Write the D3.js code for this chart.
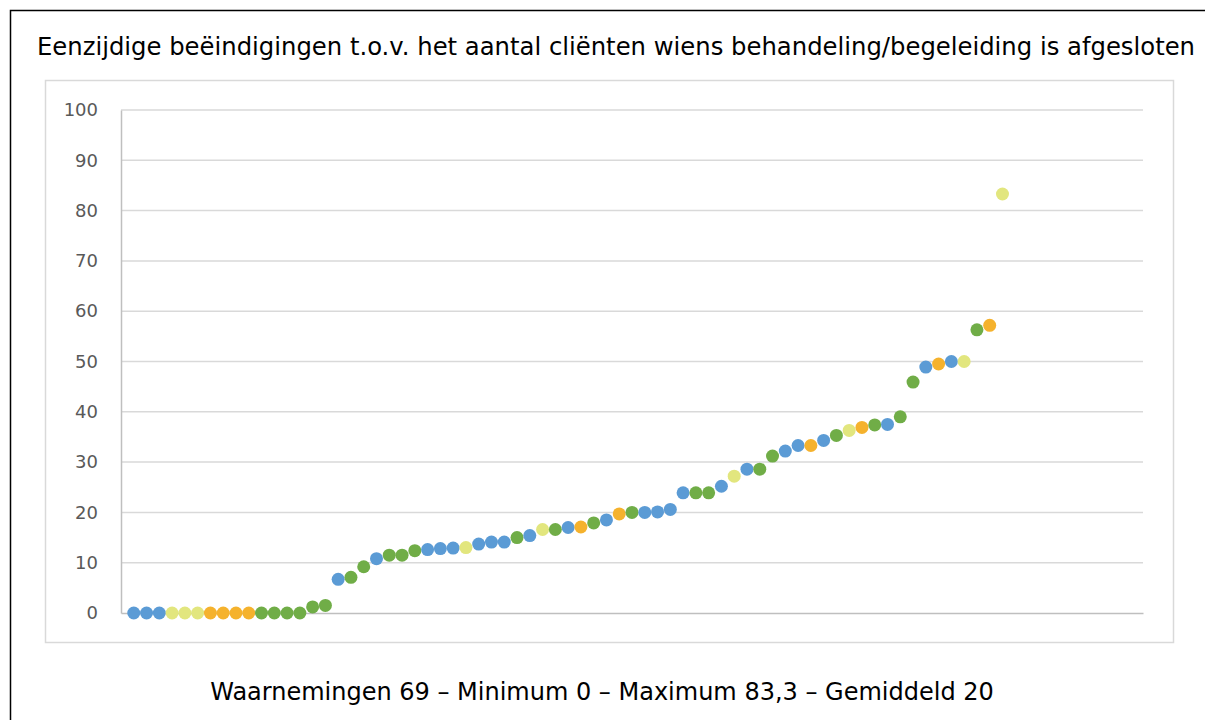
<!DOCTYPE html>
<html>
<head>
<meta charset="utf-8">
<script src="https://cdn.jsdelivr.net/npm/d3@7"></script>
<style>
  html, body { margin: 0; padding: 0; background: #fff; }
  svg { display: block; }
</style>
</head>
<body>
<svg id="chart" width="1205" height="720"></svg>
<script>
const title = "Eenzijdige beëindigingen t.o.v. het aantal cliënten wiens behandeling/begeleiding is afgesloten";
const footer = "Waarnemingen 69 – Minimum 0 – Maximum 83,3 – Gemiddeld 20";

const values = [
  0, 0, 0, 0, 0, 0, 0, 0, 0, 0, 0, 0, 0, 0, 1.2, 1.5, 6.7, 7.1, 9.2, 10.8,
  11.5, 11.5, 12.4, 12.6, 12.8, 12.9, 13.0, 13.7, 14.1, 14.1, 15.0, 15.4, 16.6, 16.6, 17.0, 17.1,
  17.9, 18.5, 19.7, 20.0, 20.0, 20.1, 20.6, 23.9, 23.9, 23.9, 25.2, 27.2, 28.6, 28.6,
  31.2, 32.2, 33.3, 33.3, 34.3, 35.3, 36.3, 36.9, 37.4, 37.5, 39.0, 45.9, 48.9, 49.5,
  50.0, 50.0, 56.3, 57.2, 83.3
];
const groups = [
  "b","b","b","y","y","y","o","o","o","o","g","g","g","g","g","g","b","g","g","b",
  "g","g","g","b","b","b","y","b","b","b","g","b","y","g","b","o",
  "g","b","o","g","b","b","b","b","g","g","b","y","b","g",
  "g","b","b","o","b","g","y","o","g","b","g","g","b","o",
  "b","y","g","o","y"
];
const groupKeys = ["b", "y", "o", "g"];
const groupColors = ["#5B9BD5", "#E2E67E", "#F5B22D", "#70AD47"];
const yTicks = [0, 10, 20, 30, 40, 50, 60, 70, 80, 90, 100];

const svg = d3.select("#chart");
const font = "'DejaVu Sans', Verdana, sans-serif";

// outer frame
svg.append("rect").attr("x", 10.5).attr("y", 10.5).attr("width", 1210).attr("height", 720)
  .attr("fill", "none").attr("stroke", "#000").attr("stroke-width", 1.5);

// title
svg.append("text").attr("x", 616).attr("y", 55).attr("text-anchor", "middle")
  .attr("font-family", font).attr("font-size", 24.3).attr("fill", "#000").text(title);

// chart area box
svg.append("rect").attr("x", 45.5).attr("y", 80.5).attr("width", 1128).attr("height", 562)
  .attr("fill", "#fff").attr("stroke", "#D9D9D9").attr("stroke-width", 1.5);

const x = d3.scaleLinear().domain([0, 80]).range([121, 1143]);
const y = d3.scaleLinear().domain([0, 100]).range([613, 110]);
const color = d3.scaleOrdinal().domain(groupKeys).range(groupColors);

// gridlines
svg.append("g").selectAll("line").data(yTicks.filter(d => d > 0)).join("line")
  .attr("x1", x(0)).attr("x2", x(80)).attr("y1", d => y(d)).attr("y2", d => y(d))
  .attr("stroke", "#D9D9D9").attr("stroke-width", 1.5);

// y axis
const yAxis = d3.axisLeft(y).tickValues(yTicks).tickSize(0).tickPadding(23).tickFormat(d3.format("d"));
const gy = svg.append("g").attr("transform", `translate(${x(0)},0)`).call(yAxis);
gy.select(".domain").attr("stroke", "#BFBFBF").attr("stroke-width", 1.5);
gy.selectAll("text").attr("font-family", font).attr("font-size", 18).attr("fill", "#595959");

// x axis line
const xAxis = d3.axisBottom(x).tickValues([]).tickSizeOuter(0);
const gx = svg.append("g").attr("transform", `translate(0,${y(0)})`).call(xAxis);
gx.select(".domain").attr("stroke", "#BFBFBF").attr("stroke-width", 1.5);

// points
svg.append("g").selectAll("circle").data(values).join("circle")
  .attr("cx", (d, i) => x(i + 1)).attr("cy", d => y(d)).attr("r", 6.5)
  .attr("fill", (d, i) => color(groups[i]));

// footer
svg.append("text").attr("x", 602).attr("y", 700).attr("text-anchor", "middle")
  .attr("font-family", font).attr("font-size", 24).attr("fill", "#000").text(footer);
</script>
</body>
</html>
